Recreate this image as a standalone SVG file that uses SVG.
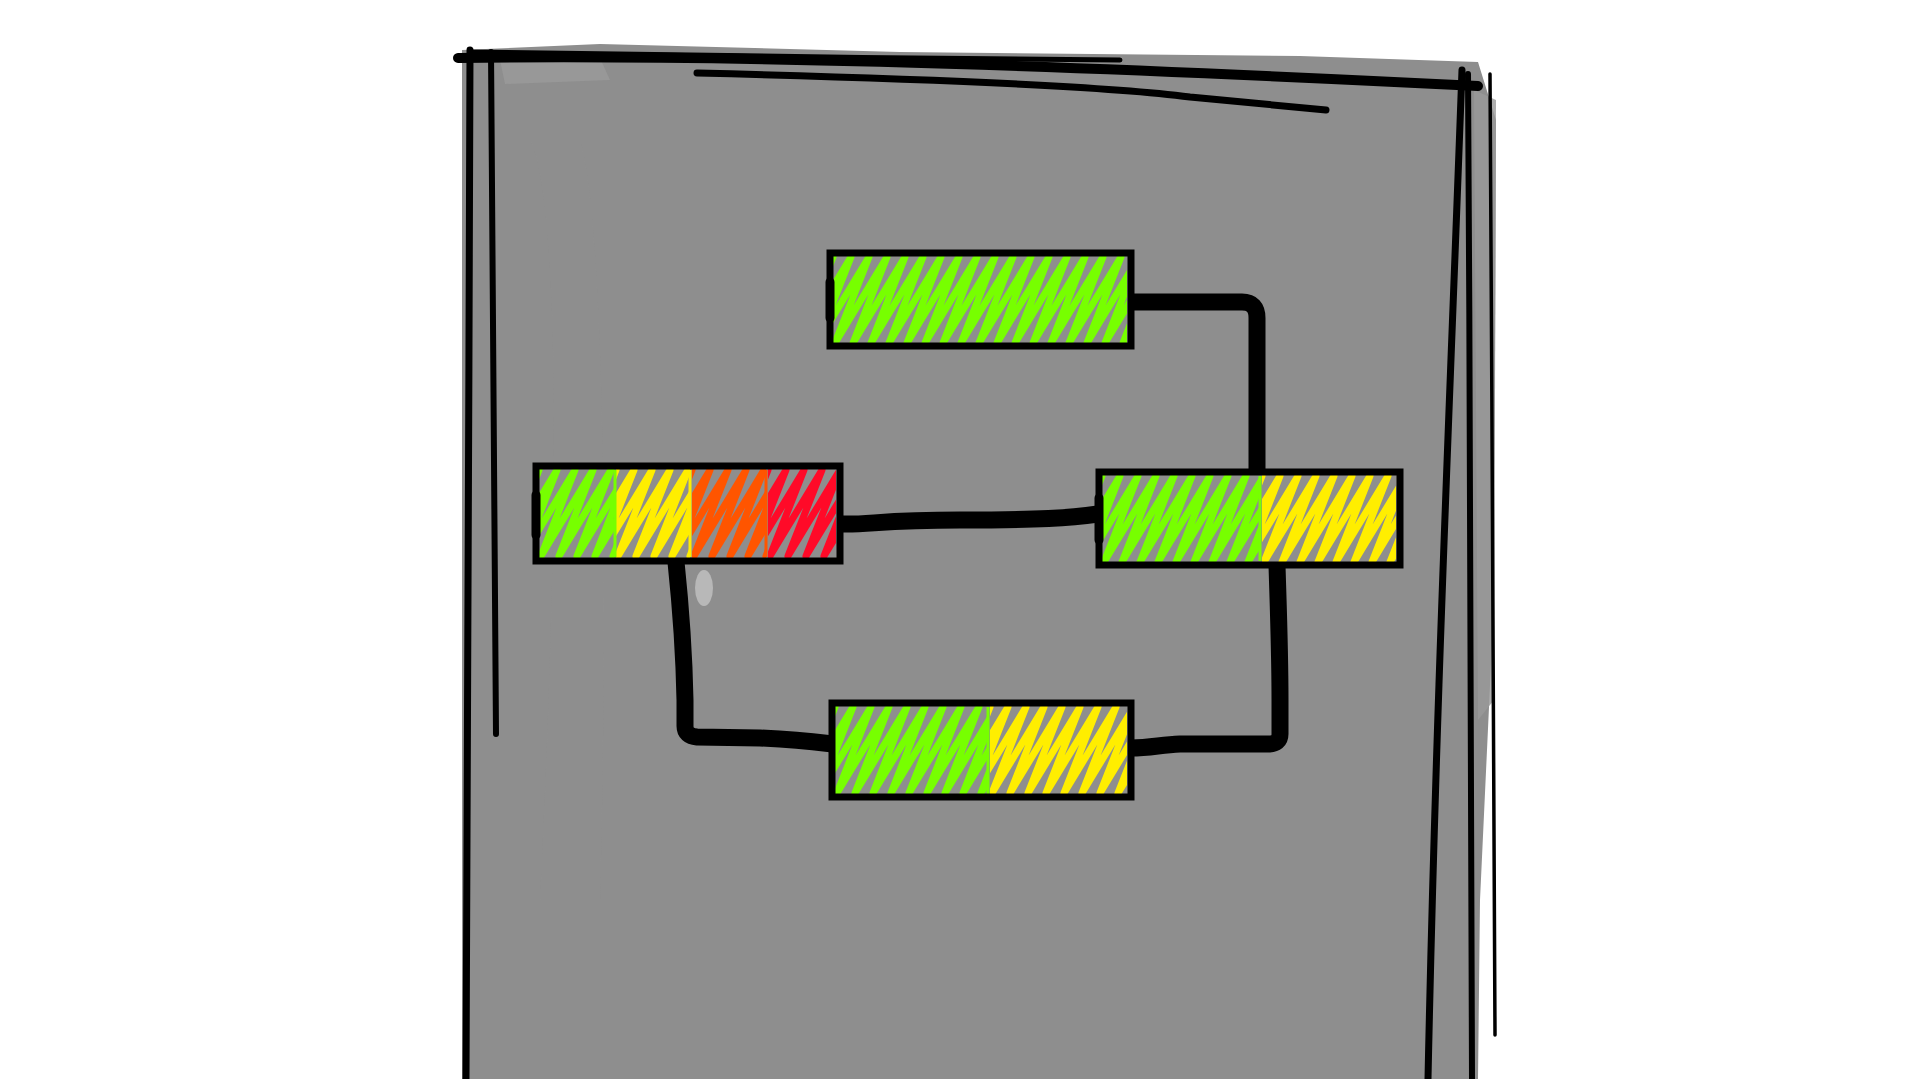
<svg xmlns="http://www.w3.org/2000/svg" xmlns:xlink="http://www.w3.org/1999/xlink" width="1919" height="1079" viewBox="0 0 1919 1079">
<style>
.ink{fill:none;stroke:#000;stroke-linecap:round;stroke-linejoin:round}
.box{fill:none;stroke:#000;stroke-width:7;stroke-linecap:square}
.conn{fill:none;stroke:#000;stroke-width:17;stroke-linecap:butt;stroke-linejoin:round}
.g{stroke:#77ff00}
.y{stroke:#ffee00}
.o{stroke:#ff5500}
.r{stroke:#ff0a28}
.sep{stroke-width:3}
</style>
<defs>
<path id="zig" fill="none" stroke-width="7" stroke-linecap="round" stroke-linejoin="round" d="M0,86 l52,-86 l-34,86 l52,-86 l-34,86 l52,-86 l-34,86 l52,-86 l-34,86 l52,-86 l-34,86 l52,-86 l-34,86 l52,-86 l-34,86 l52,-86 l-34,86 l52,-86 l-34,86 l52,-86 l-34,86 l52,-86 l-34,86 l52,-86 l-34,86 l52,-86 l-34,86 l52,-86 l-34,86 l52,-86 l-34,86 l52,-86 l-34,86 l52,-86 l-34,86 l52,-86 l-34,86 l52,-86 l-34,86 l52,-86 l-34,86 l52,-86 l-34,86 l52,-86 l-34,86"/>
<clipPath id="cTop"><rect x="833" y="256" width="294" height="87"/></clipPath>
<clipPath id="cL1"><rect x="539" y="469" width="76" height="89"/></clipPath>
<clipPath id="cL2"><rect x="616" y="469" width="74" height="89"/></clipPath>
<clipPath id="cL3"><rect x="692" y="469" width="74" height="89"/></clipPath>
<clipPath id="cL4"><rect x="768" y="469" width="68" height="89"/></clipPath>
<clipPath id="cR1"><rect x="1102" y="475" width="158" height="87"/></clipPath>
<clipPath id="cR2"><rect x="1262" y="475" width="134" height="87"/></clipPath>
<clipPath id="cB1"><rect x="835" y="706" width="153" height="88"/></clipPath>
<clipPath id="cB2"><rect x="990" y="706" width="137" height="88"/></clipPath>
</defs>

<g id="panel">
<path d="M462,50 L600,44 L900,52 L1300,56 L1478,62 L1496,120 L1494,600 L1480,900 L1478,1079 L462,1079 Z" fill="#8e8e8e"/>
<path d="M1474,90 L1496,100 L1494,700 L1478,720 Z" fill="#9a9a9a" opacity="0.8"/>
<path d="M500,60 L600,58 L610,80 L505,84 Z" fill="#a2a2a2" opacity="0.5"/>
<path d="M530,140 C560,200 560,500 540,900 L600,900 C610,500 600,200 580,140 Z" fill="#969696" opacity="0.15"/>
<ellipse cx="704" cy="588" rx="9" ry="18" fill="#b8b8b8"/>
<path class="ink" stroke-width="10" d="M458,58 C700,55 1000,62 1478,86"/>
<path class="ink" stroke-width="5" d="M470,52 C700,56 900,58 1120,60"/>
<path class="ink" stroke-width="7" d="M697,73 C900,78 1100,85 1190,97 L1326,110"/>
<path class="ink" stroke-width="7" d="M470,50 C469,400 467,800 466,1079"/>
<path class="ink" stroke-width="6" d="M491,52 C493,300 495,550 496,734"/>
<path class="ink" stroke-width="7" d="M1462,70 C1450,400 1436,700 1428,1079"/>
<path class="ink" stroke-width="6" d="M1468,74 C1470,400 1471,700 1472,1079"/>
<path class="ink" stroke-width="3.5" d="M1490,74 C1492,400 1494,800 1495,1035"/>
</g>

<g id="connectors">
<path class="conn" d="M1131,302 L1242,302 Q1257,302 1257,318 L1257,472"/>
<path class="conn" d="M840,524 C870,525 880,520 960,520 C1040,520 1070,518 1098,514"/>
<path class="conn" d="M676,562 C680,600 684,650 685,700 L685,726 Q685,736 697,737 L760,738 C800,740 815,742 832,744"/>
<path class="conn" d="M1277,565 C1278,600 1280,650 1280,700 L1280,734 Q1280,744 1268,744 L1180,744 C1160,745 1150,748 1131,748"/>
</g>

<g id="node-top">
<g clip-path="url(#cTop)"><use xlink:href="#zig" href="#zig" class="g" x="781" y="257"/></g>
<rect class="box" x="830" y="253" width="301" height="93"/>
<path class="ink" stroke-width="9" d="M830,282 L830,318"/>
</g>

<g id="node-left">
<g clip-path="url(#cL1)"><use xlink:href="#zig" href="#zig" class="g" x="487" y="470"/></g>
<g clip-path="url(#cL2)"><use xlink:href="#zig" href="#zig" class="y" x="564" y="470"/></g>
<g clip-path="url(#cL3)"><use xlink:href="#zig" href="#zig" class="o" x="640" y="470"/></g>
<g clip-path="url(#cL4)"><use xlink:href="#zig" href="#zig" class="r" x="716" y="470"/></g>
<line class="g sep" x1="615" y1="470" x2="615" y2="557"/>
<line class="y sep" x1="690" y1="470" x2="690" y2="557"/>
<line class="o sep" x1="766" y1="470" x2="766" y2="557"/>
<rect class="box" x="536" y="466" width="304" height="95"/>
<path class="ink" stroke-width="9" d="M536,495 L536,535"/>
</g>

<g id="node-right">
<g clip-path="url(#cR1)"><use xlink:href="#zig" href="#zig" class="g" x="1050" y="476"/></g>
<g clip-path="url(#cR2)"><use xlink:href="#zig" href="#zig" class="y" x="1210" y="476"/></g>
<line class="g sep" x1="1260" y1="476" x2="1260" y2="561"/>
<rect class="box" x="1099" y="472" width="301" height="93"/>
<path class="ink" stroke-width="9" d="M1099,498 L1099,540"/>
</g>

<g id="node-bottom">
<g clip-path="url(#cB1)"><use xlink:href="#zig" href="#zig" class="g" x="783" y="707"/></g>
<g clip-path="url(#cB2)"><use xlink:href="#zig" href="#zig" class="y" x="938" y="707"/></g>
<line class="g sep" x1="988" y1="707" x2="988" y2="794"/>
<rect class="box" x="832" y="703" width="299" height="94"/>
</g>
</svg>
